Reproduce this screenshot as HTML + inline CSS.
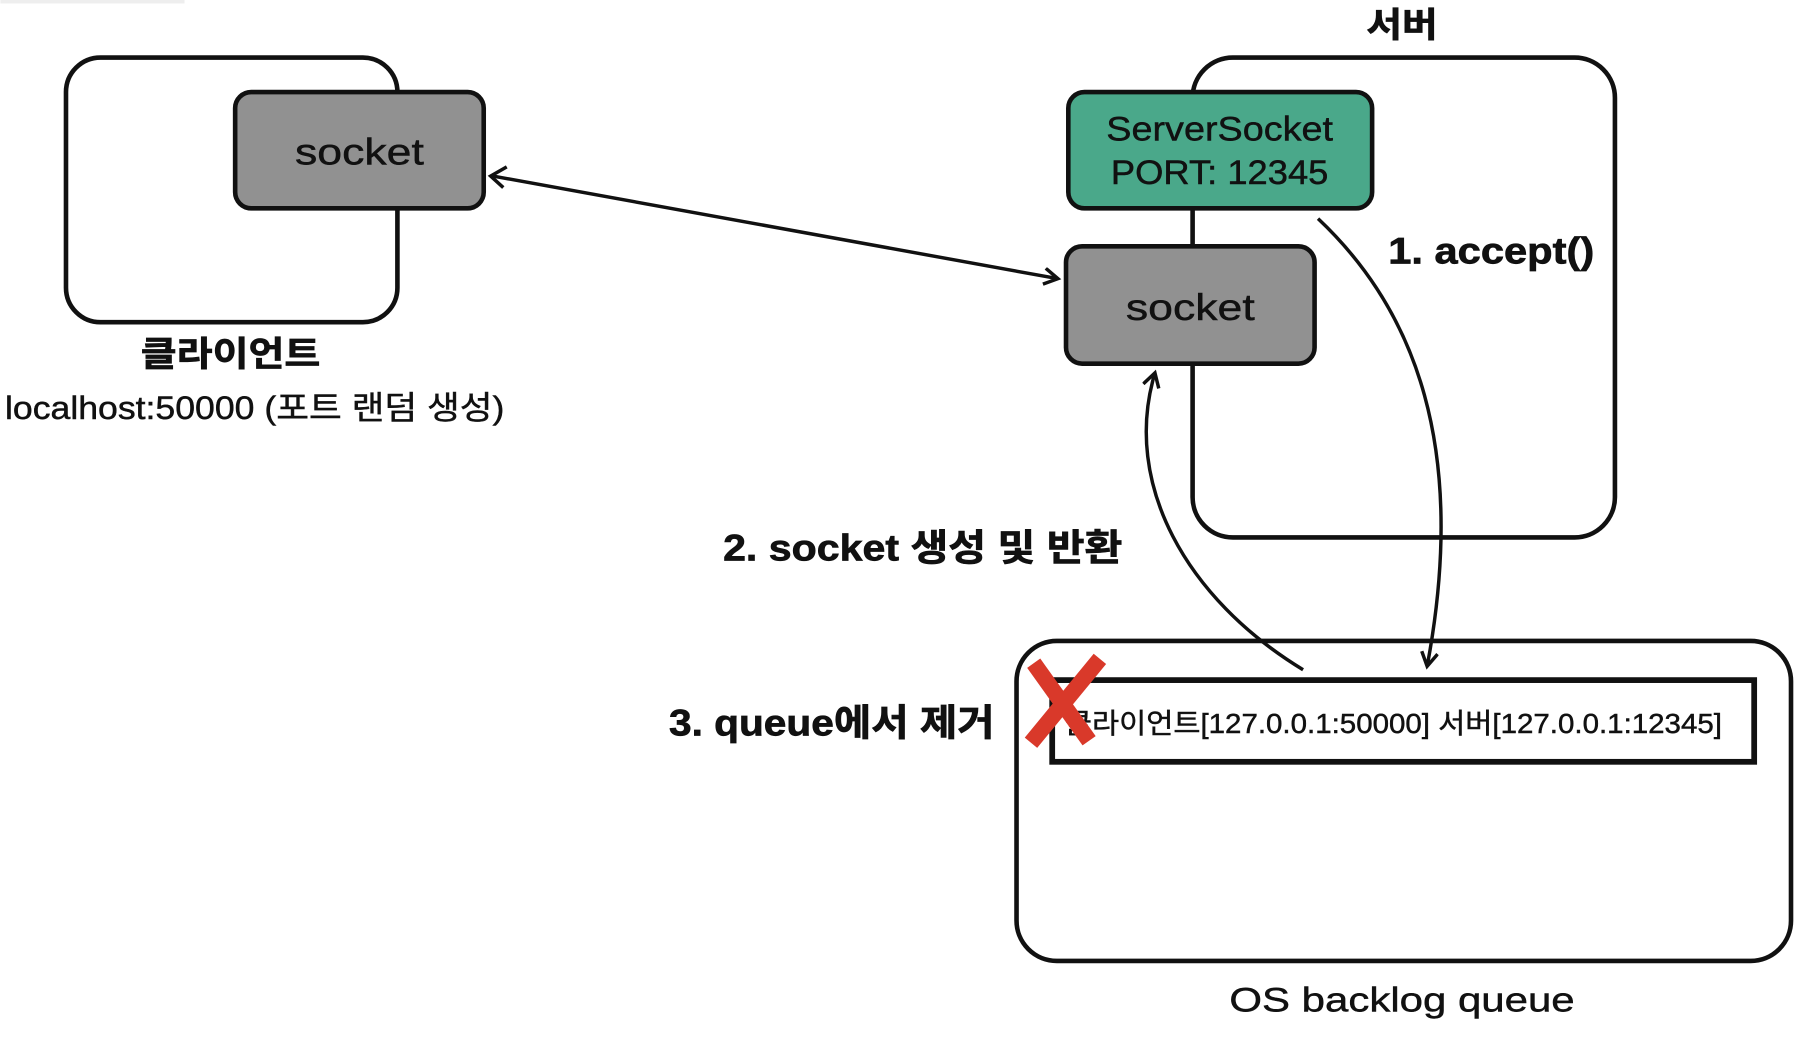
<!DOCTYPE html>
<html><head><meta charset="utf-8"><style>
html,body{margin:0;padding:0;background:#fff;}
svg{display:block}
text{font-family:"Liberation Sans","Noto Sans CJK KR",sans-serif;fill:#111;stroke:#111;stroke-width:0.4}
text.b{stroke-width:0.6}
</style></head><body>
<svg width="1796" height="1038" viewBox="0 0 1560 902" xmlns="http://www.w3.org/2000/svg">
<defs>
<marker id="ah" markerWidth="20" markerHeight="20" refX="12" refY="8" orient="auto" markerUnits="userSpaceOnUse">
<path d="M1,1 L13,8 L1,15" fill="none" stroke="#111" stroke-width="3"/>
</marker>
</defs>
<rect x="0" y="0" width="160" height="3" fill="#eee"/>
<!-- client -->
<rect x="57" y="50" width="288" height="230" rx="30" fill="#fff" stroke="#111" stroke-width="4"/>
<rect x="204" y="80" width="216" height="101" rx="14" fill="#919191" stroke="#111" stroke-width="4"/>
<text x="256" y="143" font-size="32" textLength="112" lengthAdjust="spacingAndGlyphs">socket</text>
<text class="b" x="122" y="318" font-size="30" font-weight="bold" textLength="156" lengthAdjust="spacingAndGlyphs">클라이언트</text>
<text x="4" y="364" font-size="28" textLength="434" lengthAdjust="spacingAndGlyphs">localhost:50000 (포트 랜덤 생성)</text>
<!-- server -->
<text class="b" x="1187" y="32" font-size="30" font-weight="bold" textLength="62" lengthAdjust="spacingAndGlyphs">서버</text>
<rect x="1036" y="50" width="367" height="417" rx="35" fill="#fff" stroke="#111" stroke-width="4"/>
<rect x="928" y="80" width="264" height="101" rx="14" fill="#4aa88a" stroke="#111" stroke-width="4"/>
<text x="961" y="122" font-size="30" textLength="197" lengthAdjust="spacingAndGlyphs">ServerSocket</text>
<text x="965" y="160" font-size="30" textLength="189" lengthAdjust="spacingAndGlyphs">PORT: 12345</text>
<rect x="926" y="214" width="216" height="102" rx="14" fill="#919191" stroke="#111" stroke-width="4"/>
<text x="978" y="278" font-size="32" textLength="112" lengthAdjust="spacingAndGlyphs">socket</text>
<!-- double arrow -->
<line x1="428" y1="153" x2="918" y2="242" stroke="#111" stroke-width="3" marker-end="url(#ah)"/>
<path d="M440,145 L426,153 L437,163" fill="none" stroke="#111" stroke-width="3"/>
<text class="b" x="1206" y="229" font-size="32" font-weight="bold" textLength="179" lengthAdjust="spacingAndGlyphs">1. accept()</text>
<text class="b" x="628" y="487" font-size="32" font-weight="bold" textLength="347" lengthAdjust="spacingAndGlyphs">2. socket 생성 및 반환</text>
<text class="b" x="581" y="639" font-size="32" font-weight="bold" textLength="283" lengthAdjust="spacingAndGlyphs">3. queue에서 제거</text>
<!-- queue -->
<rect x="883" y="557" width="673" height="278" rx="35" fill="#fff" stroke="#111" stroke-width="4"/>
<rect x="914" y="591" width="610" height="71" fill="#fff" stroke="#111" stroke-width="5"/>
<text x="925" y="637" font-size="24" textLength="571" lengthAdjust="spacingAndGlyphs">클라이언트[127.0.0.1:50000] 서버[127.0.0.1:12345]</text>
<path d="M1145,190 C1230,270 1275,390 1240,578" fill="none" stroke="#111" stroke-width="3" marker-end="url(#ah)"/>
<path d="M1132,582 C1030,520 975,420 1003,325" fill="none" stroke="#111" stroke-width="3" marker-end="url(#ah)"/>
<path d="M902,582 L942,638 M951,578 L900,640" stroke="#d9392a" stroke-width="14" stroke-linecap="square"/>
<text x="1068" y="879" font-size="30" textLength="300" lengthAdjust="spacingAndGlyphs">OS backlog queue</text>
</svg>
</body></html>
